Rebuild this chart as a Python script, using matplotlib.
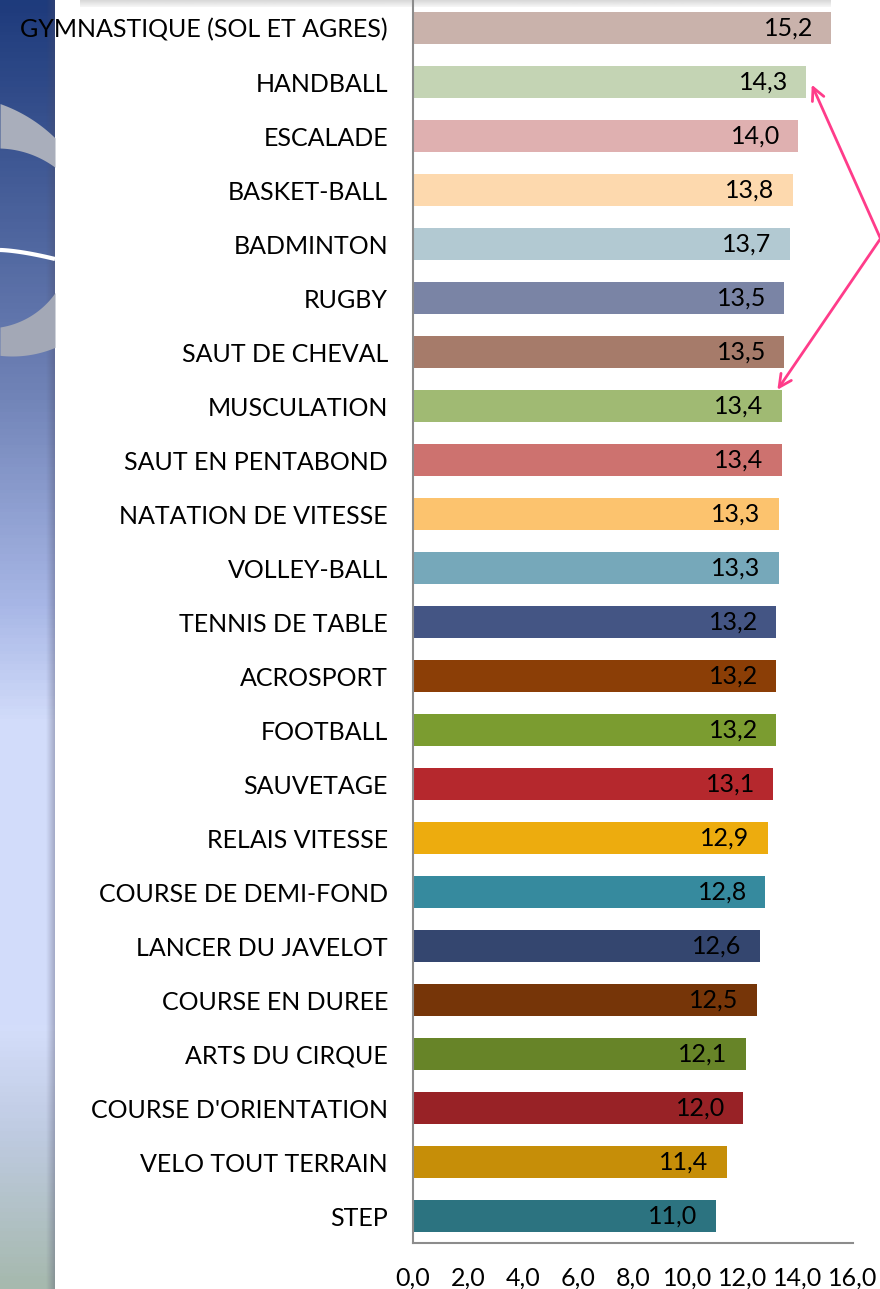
import numpy as np
import matplotlib
matplotlib.use("Agg")
import matplotlib.pyplot as plt
from matplotlib.colors import LinearSegmentedColormap

categories = [
    "GYMNASTIQUE (SOL ET AGRES)", "HANDBALL", "ESCALADE", "BASKET-BALL", "BADMINTON",
    "RUGBY", "SAUT DE CHEVAL", "MUSCULATION", "SAUT EN PENTABOND", "NATATION DE VITESSE",
    "VOLLEY-BALL", "TENNIS DE TABLE", "ACROSPORT", "FOOTBALL", "SAUVETAGE",
    "RELAIS VITESSE", "COURSE DE DEMI-FOND", "LANCER DU JAVELOT", "COURSE EN DUREE",
    "ARTS DU CIRQUE", "COURSE D'ORIENTATION", "VELO TOUT TERRAIN", "STEP",
]
values = [15.2, 14.3, 14.0, 13.8, 13.7, 13.5, 13.5, 13.4, 13.4, 13.3, 13.3, 13.2,
          13.2, 13.2, 13.1, 12.9, 12.8, 12.6, 12.5, 12.1, 12.0, 11.4, 11.0]
colors = [
    "#C9B2AB", "#C4D4B4", "#DFB0B0", "#FDD9AE", "#B2C9D2", "#7A84A5", "#A67B6A",
    "#A0BA73", "#CD726F", "#FCC36E", "#76A8BA", "#445584", "#8B3E06", "#7B9C30",
    "#B5282D", "#EDAC0E", "#368A9E", "#34466F", "#763508", "#678428", "#982226",
    "#C68E08", "#2C7380",
]
xticks = [0, 2, 4, 6, 8, 10, 12, 14, 16]
xtick_labels = ["0,0", "2,0", "4,0", "6,0", "8,0", "10,0", "12,0", "14,0", "16,0"]

FONT = ["Lato", "DejaVu Sans"]
FS = 18

W, H = 880, 1289
fig = plt.figure(figsize=(W / 100, H / 100), dpi=100)
fig.patch.set_facecolor("white")

# ---- decorative left strip (slide background) ----
sax = fig.add_axes([0, 0, 55 / W, 1])
sax.set_xlim(0, 55)
sax.set_ylim(H, 0)
sax.axis("off")
grad_cmap = LinearSegmentedColormap.from_list("bg", [
    (0.0, "#1E3B7C"), (0.30, "#6F82B6"), (0.47, "#A8B7E6"), (0.56, "#D2DCFA"),
    (0.80, "#D3DDFA"), (0.88, "#BFCBE2"), (1.0, "#A6B9AE")])
grad = np.linspace(0, 1, 400).reshape(-1, 1)
sax.imshow(grad, cmap=grad_cmap, aspect="auto", extent=[0, 55, H, 0], zorder=0)
shade = np.linspace(0, 1, 50).reshape(1, -1)
shade_cmap = LinearSegmentedColormap.from_list("sh", [(0, (0.3, 0.3, 0.4, 0.0)), (1, (0.3, 0.3, 0.4, 0.35))])
sax.imshow(shade, cmap=shade_cmap, aspect="auto", extent=[46, 55, H, 0], zorder=1)


def arc_y(xs, cx, cy, r, sign):
    return cy + sign * np.sqrt(np.clip(r ** 2 - (xs - cx) ** 2, 0, None))


xx = np.linspace(0, 55, 80)
sax.fill_between(xx, arc_y(xx, -50, 245, 150, -1), arc_y(xx, -3, 245, 97, -1),
                 color="#A9AEBB", lw=0, zorder=2)
sax.fill_between(xx, arc_y(xx, -13, 245, 83, 1), arc_y(xx, 12, 245, 111, 1),
                 color="#A3A8B6", lw=0, zorder=2)
sax.plot(xx, 250 + 9 * (xx / 55) ** 1.5, color="white", lw=3, zorder=3, solid_capstyle="butt")

# top shadow of the title box
tax = fig.add_axes([80 / W, (H - 7) / H, 750 / W, 7 / H])
tax.axis("off")
vshade = np.linspace(0, 1, 20).reshape(-1, 1)
tax.imshow(vshade, cmap=LinearSegmentedColormap.from_list("ts", ["#D8D8D8", "#F6F6F6"]),
           aspect="auto", extent=[0, 1, 1, 0])
tax.set_xlim(0, 1)
tax.set_ylim(1, 0)

# ---- main chart ----
ax = fig.add_axes([413 / W, (H - 1243) / H, 440 / W, 1242 / H])
ax.set_facecolor("none")
y = np.arange(len(categories))
ax.barh(y, values, height=0.59, color=colors, zorder=2)
ax.set_xlim(0, 16)
ax.set_ylim(len(categories) - 0.5, -0.5)
ax.set_yticks(y)
ax.set_yticklabels(categories, fontsize=FS, family=FONT, color="black")
ax.set_xticks(xticks)
ax.set_xticklabels(xtick_labels, fontsize=FS, family=FONT, color="black")
ax.tick_params(axis="y", length=0, pad=18)
ax.tick_params(axis="x", length=0, pad=17)
for side in ("top", "right"):
    ax.spines[side].set_visible(False)
for side in ("left", "bottom"):
    ax.spines[side].set_color("#8C8C8C")
    ax.spines[side].set_linewidth(1.5)

for yi, v in zip(y, values):
    ax.annotate(f"{v:.1f}".replace(".", ","), xy=(v, yi), xytext=(-13, 0),
                textcoords="offset points", ha="right", va="center",
                fontsize=FS, family=FONT, color="black", zorder=3)

# pink double arrow annotation
pink = "#FF3C8A"
apex = (17.0, 3.9)
ax.annotate("", xy=(values[1] + 0.2, 1.05), xytext=apex, annotation_clip=False,
            arrowprops=dict(arrowstyle="->,head_length=0.9,head_width=0.45", color=pink, lw=2,
                            shrinkA=0, shrinkB=0))
ax.annotate("", xy=(values[7] - 0.15, 7 - 0.3), xytext=apex, annotation_clip=False,
            arrowprops=dict(arrowstyle="->,head_length=0.9,head_width=0.45", color=pink, lw=2,
                            shrinkA=0, shrinkB=0))

fig.savefig("out.png", dpi=100)
